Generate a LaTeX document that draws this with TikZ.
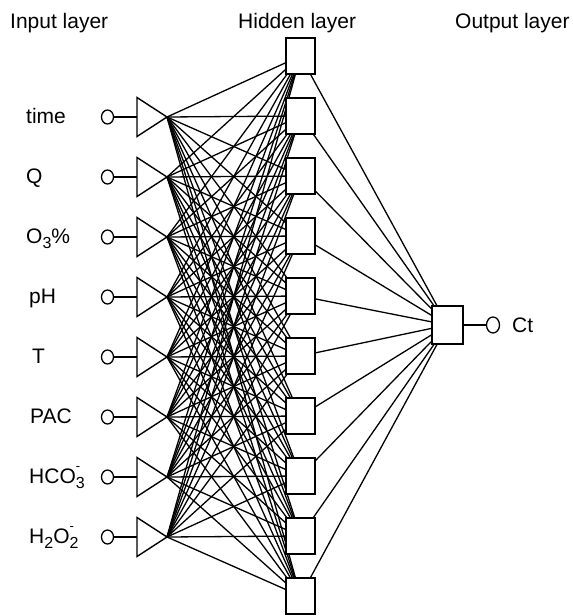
\documentclass[tikz,border=0pt]{standalone}
\usepackage{fontspec}
\setmainfont{Liberation Sans}
\usetikzlibrary{shapes.geometric,backgrounds}
% chemical-style indices: enlarged subscript and a small charge sign stacked above it
\newcommand{\chemsub}[1]{\raisebox{-5.5pt}{\fontsize{16}{16}\selectfont #1}}
\newcommand{\chemneg}{\rlap{\raisebox{13pt}{\fontsize{13}{13}\selectfont -}}}
\begin{document}
\begin{tikzpicture}[x=1pt,y=-1pt,
  lbl/.style={anchor=base west, inner sep=0pt, font=\fontsize{21}{25}\selectfont},
  unitbox/.style={draw, line width=1.3pt, fill=white, minimum width=29pt, minimum height=36pt, inner sep=0pt},
  outbox/.style={unitbox, minimum width=31pt, minimum height=38pt},
  tri/.style={draw, line width=1.4pt, line join=miter},
  wire/.style={line width=1.3pt},
  lead/.style={line width=1.4pt},
  pin/.style={draw, ellipse, line width=1.3pt, minimum width=12pt, minimum height=14pt, inner sep=0pt}]
\useasboundingbox (0,0) rectangle (573,616);

% layer titles
\node[lbl] (tin)  at (10,28)  {Input layer};
\node[lbl] (thid) at (238,28) {Hidden layer};
\node[lbl] (tout) at (455,28) {Output layer};

% input units: label, pin, lead and triangle
\foreach \i/\lx/\txt in {0/26/time, 1/26/Q, 2/26/{O\chemsub{3}\%}, 3/29/pH, 4/32/T,
    5/30/PAC, 6/29/{HCO\chemneg\chemsub{3}}, 7/29/{H\chemsub{2}O\chemneg\chemsub{2}}} {
  \pgfmathsetmacro{\yy}{117+60*\i}
  \node[lbl] (l\i) at (\lx,\yy+6) {\txt};
  \node[pin] (p\i) at (107.5,\yy) {};
  \coordinate (b\i) at (137,\yy);
  \coordinate (a\i) at (167,\yy);
  \draw[lead] (p\i) -- (b\i);
  \draw[tri] (137,\yy-19.5) -- (a\i) -- (137,\yy+19.5) -- cycle;
}

% hidden units
\foreach \j in {0,...,9} {
  \node[unitbox] (h\j) at (300.5,56+60*\j) {};
}

% output unit
\node[outbox] (o) at (447.5,325) {};
\node[pin, minimum width=13pt, minimum height=16pt] (q) at (493,325) {};
\draw[lead] (o) -- (q);
\node[lbl] (ct) at (512,332) {Ct};

% weighted connections, kept behind the unit boxes
\begin{scope}[on background layer]
  \foreach \i in {0,...,7} {
    \foreach \j in {0,...,9} {
      \draw[wire] (a\i) -- (h\j);
    }
  }
  \foreach \j in {0,...,9} {
    \draw[wire] (h\j) -- (o);
  }
\end{scope}
\end{tikzpicture}
\end{document}
